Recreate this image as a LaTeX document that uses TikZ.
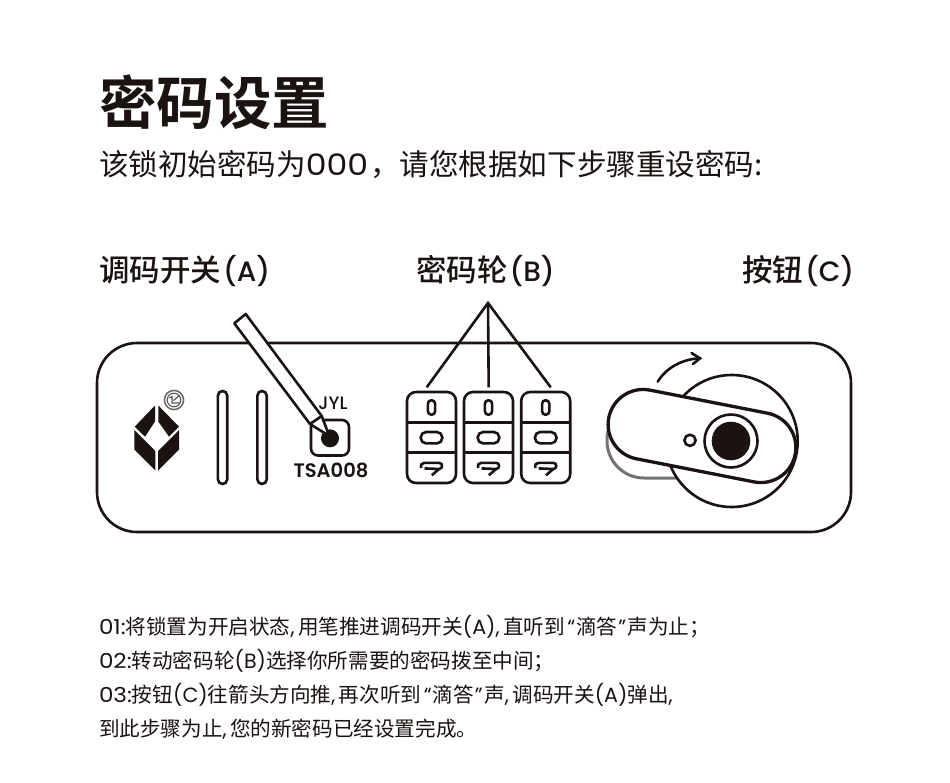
\documentclass[tikz,border=0pt]{standalone}
\usepackage{fontspec}
\setmainfont{Noto Sans CJK SC}
\newfontfamily\cjkb{Noto Sans CJK SC Bold}
\newfontfamily\cjkm{Noto Sans CJK SC Medium}
\newfontfamily\lat{Poppins}
\newfontfamily\latw[FakeStretch=1.12]{Poppins}
\newfontfamily\latm{Poppins Medium}
\newfontfamily\lats{Poppins SemiBold}
\definecolor{ink}{HTML}{1A1311}
\newcommand{\cma}{{\lat ,\kern3.5pt}}
\newcommand{\qo}{{\kern2.5pt\lat “\kern1pt}}
\newcommand{\qc}{{\kern1pt\lat ”\kern1.5pt}}
\tikzset{
  txt/.style={anchor=base west,inner sep=0pt,outer sep=0pt,text=ink},
  ln/.style={draw=ink,line width=2.6pt},
  wheelbox/.style={ln,fill=white,rounded corners=9pt,minimum width=49pt,minimum height=91pt,inner sep=0pt},
  pointer/.style={draw=ink,line width=2.6pt},
  stepline/.style={txt,font=\fontsize{20.6}{20.6}\selectfont},
  heading/.style={txt,font=\fontsize{30.5}{30.5}\cjkm},
  mono/.style={anchor=center,inner sep=0pt,text=ink,font=\fontsize{19.5}{19.5}\lats},
}
\newcommand{\hlat}[1]{{\kern2pt\fontsize{28}{28}\latm #1}}
\newcommand{\wheeldigits}[1]{%
  \begin{scope}[shift={(#1,0)}]
    \draw[ln] (-24.5,422.3) -- (24.5,422.3) (-24.5,452.7) -- (24.5,452.7);
    \draw[ln,rounded corners=3.4pt] (-3.6,400.3) rectangle (3.6,414.7);
    \draw[ln,rounded corners=5.4pt] (-10.8,432) rectangle (10.8,443.4);
    \draw[ln] (-10.3,468) .. controls (-11.2,464.5) and (-9.5,462.8) .. (-7,462.8) -- (7.5,462.8) .. controls (11.6,462.8) and (11.6,469) .. (7.5,469) -- (-7,468.4);
    \draw[ln] (7.5,469) -- (0.3,475.3);
  \end{scope}}
\begin{document}
\begin{tikzpicture}[x=1pt,y=-1pt]
\useasboundingbox (0,0) rectangle (950,782);
\fill[white] (0,0) rectangle (950,782);
% headings
\node[txt,font=\fontsize{57.5}{57.5}\cjkb] (title) at (99,124) {密码设置};
\node[txt,font=\fontsize{29.55}{29.55}\selectfont] (sub) at (99,175) {该锁初始密码为{\latw 000\kern2pt}，请您根据如下步骤重设密码:};
\node[heading] (la) at (99,281) {调码开关\hlat{(A)}};
\node[heading] (lb) at (416,281) {密码轮\hlat{(B)}};
\node[heading] (lc) at (742,281) {按钮\hlat{(C)}};
% panel
\draw[ln,rounded corners=40pt] (97,343) rectangle (851,532);
% logo
\fill[ink] (155,405.5) -- (155,421.5) -- (145,436.7) -- (134.7,426.7) -- cycle;
\fill[ink] (158.3,405.5) -- (158.3,421.5) -- (169,436.7) -- (179,426.7) -- cycle;
\fill[ink] (134.3,430) -- (155.3,451) -- (155.3,470.5) -- (134.3,449.5) -- cycle;
\fill[ink] (179,430) -- (158,451) -- (158,470.5) -- (179,449.5) -- cycle;
\draw[black!60,line width=1.5pt] (174,400) circle (9.6);
\draw[black!65,line width=1.1pt] (174,400) circle (6.8);
\draw[black!65,line width=1.2pt] (169.5,398) -- (172,396.5) -- (172,403) -- (179.5,403) (173.5,400.5) -- (179,395.5);
% slots
\draw[ln,rounded corners=4.6pt] (217.9,391) rectangle (227.2,484);
\draw[ln,rounded corners=4.6pt] (257.4,391) rectangle (266.7,484);
% switch
\node[anchor=center,inner sep=0pt,text=ink,font=\fontsize{18}{18}\latm] (jyl) at (333,403) {JYL};
\node[mono] (tsa) at (331,470) {TSA008};
\draw[ln,rounded corners=7pt] (311,420) rectangle (349,455.5);
\fill[ink] (330,438.3) circle (9);
% pen
\draw[ln,fill=white,line join=round] (234.3,323.3) -- (245.7,314) -- (321.7,416) -- (329.3,436) -- (310,424) -- cycle;
\draw[ln] (310,424) -- (321.7,416);
% wheels
\node[wheelbox] (w1) at (431.5,437.5) {};
\node[wheelbox] (w2) at (488.5,437.5) {};
\node[wheelbox] (w3) at (545.7,437.5) {};
\wheeldigits{431.5}
\wheeldigits{488.5}
\wheeldigits{545.7}
\coordinate (apex) at (488,303);
\coordinate (e1) at (426.7,387.3);
\coordinate (e2) at (488.7,387.3);
\coordinate (e3) at (550.7,387.3);
\draw[pointer] (e1) -- (apex) -- (e3);
\draw[pointer] (apex) -- (e2);
% knob
\draw[draw=black!55,line width=3pt,fill=white,rounded corners=37pt] (607,403) rectangle (795,478);
\draw[ln,fill=white] (731.7,441) circle (66);
\begin{scope}[shift={(702,436)},rotate=-11.1]
  \draw[ln,line width=3.3pt,fill=white,rounded corners=35pt] (-95,-35) rectangle (95,35);
\end{scope}
\draw[ln] (731,441) circle (26.5);
\fill[ink] (731,441) circle (19.3);
\draw[ln] (690,440.3) circle (5.6);
\coordinate (as) at (657.7,381.7);
\coordinate (ae) at (700,358.3);
\draw[ln,line cap=round] (as) .. controls (666,368) and (682,359) .. (ae);
\draw[ln,line cap=round,line join=miter] (691.5,353) -- (ae) -- (693,364);
% steps
\node[stepline] (s1) at (99,634) {{\latw 01:}将锁置为开启状态\cma 用笔推进调码开关{\lat (A)}\cma 直听到\qo 滴答\qc 声为止；};
\node[stepline] (s2) at (99,668) {{\latw 02:}转动密码轮{\lat (B)}选择你所需要的密码拨至中间；};
\node[stepline] (s3) at (99,702) {{\latw 03:}按钮{\lat (C)}往箭头方向推\cma 再次听到\qo 滴答\qc 声\cma 调码开关{\lat (A)}弹出{\lat ,}};
\node[stepline] (s4) at (99,736) {到此步骤为止\cma 您的新密码已经设置完成。};
\end{tikzpicture}
\end{document}
